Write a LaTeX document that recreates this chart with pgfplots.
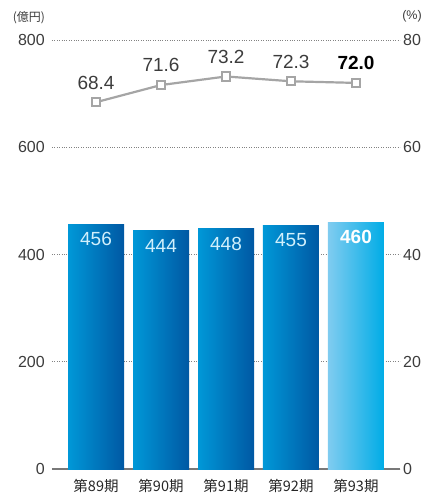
\documentclass[border=0pt]{standalone}
\usepackage{pgfplots}
\pgfplotsset{compat=1.18}
\usepackage{fontspec}
\setmainfont{Liberation Sans}
\newfontfamily\jp{Noto Sans CJK JP}
\definecolor{barL}{RGB}{0,152,216}
\definecolor{barR}{RGB}{0,88,163}
\definecolor{lastL}{RGB}{128,204,240}
\definecolor{lastR}{RGB}{0,172,230}
\definecolor{tickc}{RGB}{60,60,60}
\definecolor{gridc}{RGB}{130,130,130}
\definecolor{linec}{RGB}{165,165,165}
\definecolor{basec}{RGB}{120,120,120}
\pgfplotsset{
  mybar/.style={ybar, bar width=56pt, bar shift=0pt, draw=none, left color=barL, right color=barR,
    nodes near coords, every node near coord/.append style={anchor=north, inner sep=0pt, yshift=-8pt, text=white!82!cyan, font=\fontsize{19}{21}\selectfont}},
}
\begin{document}
\begin{tikzpicture}
\useasboundingbox (-52pt,-29pt) rectangle (373pt,469pt);
\begin{axis}[
  at={(0,0)}, anchor=south west,
  scale only axis, width=348pt, height=429pt,
  xmin=-0.677, xmax=4.677, ymin=0, ymax=800,
  axis x line*=bottom, axis y line*=left,
  x axis line style={draw=basec, line width=2pt},
  y axis line style={draw=none},
  major tick length=0pt,
  xtick={0,1,2,3,4},
  xticklabels={第89期,第90期,第91期,第92期,第93期},
  xticklabel style={font=\jp\fontsize{14.5}{16}\selectfont, text=black!85, anchor=north, inner sep=0pt, yshift=-10pt},
  ytick={0,200,400,600,800},
  yticklabel style={font=\fontsize{16}{18}\selectfont, text=tickc, anchor=east, inner sep=0pt, xshift=-7pt},
  /pgf/number format/assume math mode=true,
  ymajorgrids, grid style={dotted, gridc, line width=0.8pt},
  clip=false,
]
\addplot[mybar] coordinates {(0,456)};
\addplot[mybar] coordinates {(1,444)};
\addplot[mybar] coordinates {(2,448)};
\addplot[mybar] coordinates {(3,455)};
\addplot[mybar, left color=lastL, right color=lastR,
  every node near coord/.append style={text=white, font=\bfseries\fontsize{19}{21}\selectfont}]
  coordinates {(4,460)};
\node[font=\jp\fontsize{12}{14}\selectfont, text=tickc] at (-23pt,451pt) {(億円)};
\end{axis}
\begin{axis}[
  at={(0,0)}, anchor=south west,
  scale only axis, width=348pt, height=429pt,
  xmin=-0.677, xmax=4.677, ymin=0, ymax=80,
  axis x line=none, axis y line*=right,
  y axis line style={draw=none},
  major tick length=0pt,
  ytick={0,20,40,60,80},
  yticklabel style={font=\fontsize{16}{18}\selectfont, text=tickc, anchor=west, inner sep=0pt, xshift=3pt},
  /pgf/number format/assume math mode=true,
  clip=false,
]
\addplot[linec, line width=2.2pt, mark=square*, mark size=4.2pt, mark options={fill=white, draw=linec, line width=2pt},
  nodes near coords, point meta=explicit symbolic,
  every node near coord/.append style={anchor=south, inner sep=0pt, yshift=12pt, text=tickc, font=\fontsize{19}{21}\selectfont}]
  coordinates {(0,68.4)[68.4] (1,71.6)[71.6] (2,73.2)[73.2] (3,72.3)[72.3]};
\addplot[linec, line width=2.2pt, forget plot] coordinates {(3,72.3) (4,72.0)};
\addplot[linec, only marks, mark=square*, mark size=4.2pt, mark options={fill=white, draw=linec, line width=2pt},
  nodes near coords, point meta=explicit symbolic,
  every node near coord/.append style={anchor=south, inner sep=0pt, yshift=12pt, text=black, font=\bfseries\fontsize{19}{21}\selectfont}]
  coordinates {(4,72.0)[72.0]};
\node[font=\fontsize{12.5}{14}\selectfont, text=tickc] at (360pt,453pt) {(\%)};
\end{axis}
\end{tikzpicture}
\end{document}
